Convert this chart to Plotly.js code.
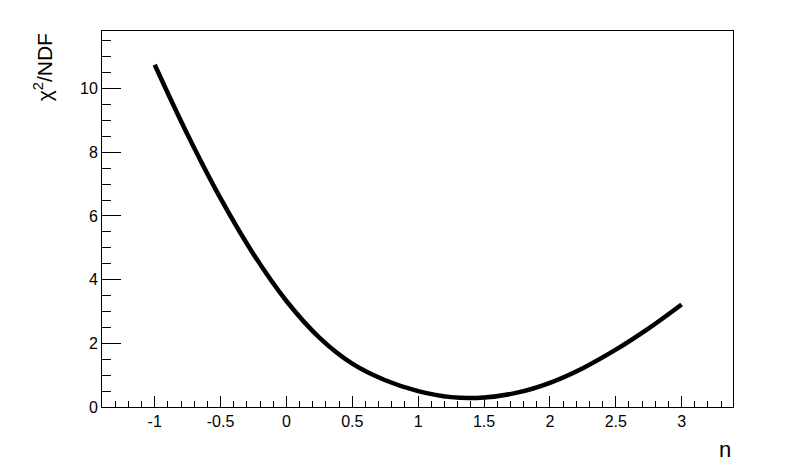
<!DOCTYPE html>
<html>
<head>
<meta charset="utf-8">
<script src="https://cdn.plot.ly/plotly-3.0.1.min.js"></script>
<style>
  html, body { margin: 0; padding: 0; background: #fff; }
  #plot { width: 788px; height: 470px; }
</style>
</head>
<body>
<div id="plot"></div>
<script>
// n values and chi2/NDF
var nVals = [-1, -0.75, -0.5, -0.25, 0, 0.25, 0.5, 0.75, 1.0, 1.25, 1.5, 1.75, 2.0, 2.25, 2.5, 2.75, 3.0];
var chi2Vals = [10.75, 8.55, 6.55, 4.80, 3.33, 2.18, 1.36, 0.84, 0.50, 0.31, 0.30, 0.45, 0.76, 1.22, 1.80, 2.47, 3.22];

var xTickVals = [-1, -0.5, 0, 0.5, 1, 1.5, 2, 2.5, 3];
var xTickText = ["-1", "-0.5", "0", "0.5", "1", "1.5", "2", "2.5", "3"];
var yTickVals = [0, 2, 4, 6, 8, 10];

var font = "Liberation Sans, Arial, sans-serif";

var trace = {
  x: nVals,
  y: chi2Vals,
  type: "scatter",
  mode: "lines",
  line: {color: "#000", width: 4.5, shape: "spline", smoothing: 1},
  hoverinfo: "skip"
};

var layout = {
  width: 788,
  height: 470,
  margin: {l: 102, r: 55, t: 31, b: 63},
  paper_bgcolor: "#fff",
  plot_bgcolor: "#fff",
  showlegend: false,
  font: {family: font, size: 16, color: "#000"},
  xaxis: {
    range: [-1.4, 3.39],
    tickvals: xTickVals,
    ticktext: xTickText,
    ticks: "inside",
    ticklen: 11,
    tickwidth: 1,
    tickcolor: "#000",
    minor: {dtick: 0.1, tick0: 0, ticks: "inside", ticklen: 6, tickcolor: "#000", showgrid: false},
    showline: true,
    linecolor: "#000",
    linewidth: 1,
    mirror: true,
    showgrid: false,
    zeroline: false,
    tickfont: {family: font, size: 16, color: "#000"}
  },
  yaxis: {
    range: [0, 11.81],
    tickvals: yTickVals,
    ticks: "inside",
    ticklen: 19,
    tickwidth: 1,
    tickcolor: "#000",
    minor: {dtick: 0.5, tick0: 0, ticks: "inside", ticklen: 9, tickcolor: "#000", showgrid: false},
    showline: true,
    linecolor: "#000",
    linewidth: 1,
    mirror: true,
    showgrid: false,
    zeroline: false,
    tickfont: {family: font, size: 16, color: "#000"}
  },
  annotations: [
    {
      text: "n",
      xref: "paper", yref: "paper",
      x: 1, y: -0.075,
      xanchor: "right", yanchor: "top",
      showarrow: false,
      font: {family: font, size: 22, color: "#000"}
    },
    {
      text: "χ<sup>2</sup>/NDF",
      textangle: -90,
      xref: "paper", yref: "paper",
      x: -0.093, y: 1,
      xanchor: "center", yanchor: "top",
      showarrow: false,
      font: {family: font, size: 21, color: "#000"}
    }
  ]
};

Plotly.newPlot("plot", [trace], layout, {displayModeBar: false, staticPlot: true});
</script>
</body>
</html>
